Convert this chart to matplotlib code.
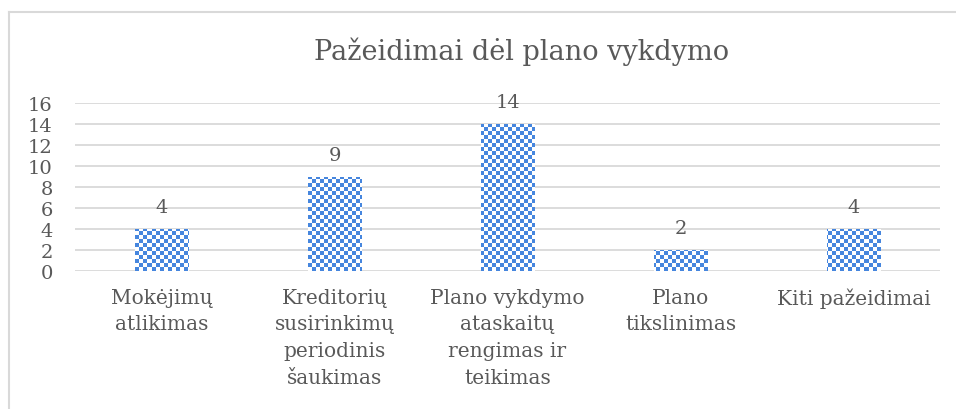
import matplotlib
matplotlib.use("Agg")
import matplotlib.pyplot as plt
import numpy as np
from matplotlib.lines import Line2D
from matplotlib.colors import ListedColormap

categories = ["Mokėjimų\natlikimas",
              "Kreditorių\nsusirinkimų\nperiodinis\nšaukimas",
              "Plano vykdymo\nataskaitų\nrengimas ir\nteikimas",
              "Plano\ntikslinimas",
              "Kiti pažeidimai"]
values = [4, 9, 14, 2, 4]
yticks = [0, 2, 4, 6, 8, 10, 12, 14, 16]
title = "Pažeidimai dėl plano vykdymo"

W, H = 956, 410
fig = plt.figure(figsize=(W/100, H/100), dpi=100)
FONT = "DejaVu Serif"
TXT = "#595959"
GRID = "#d9d9d9"
BLUE = "#4686de"

ax = fig.add_axes([75/W, 1-272/H, (940-75)/W, (272-104)/H])
x = np.arange(len(categories))
bars = ax.bar(x, values, width=0.31, color="none", edgecolor="none", zorder=3)
ax.set_xlim(-0.5, len(categories)-0.5)
ax.set_ylim(0, 16)
ax.set_yticks(yticks)
ax.set_yticklabels([str(t) for t in yticks], fontfamily=FONT, fontsize=14, color=TXT)
ax.set_xticks(x)
ax.set_xticklabels(categories, fontfamily=FONT, fontsize=14.5, color=TXT, linespacing=1.52)
ax.tick_params(axis="y", length=0, pad=16)
ax.tick_params(axis="x", length=0, pad=12)
for s in ax.spines.values():
    s.set_visible(False)
ax.yaxis.grid(True, color=GRID, linewidth=1.3, zorder=0)
ax.set_axisbelow(True)

# checkerboard pattern clipped to bars
px_w = (940-75)
px_h = (272-104)
cell = 4
nc = px_w // cell
nr = px_h // cell
cb = (np.indices((nr, nc)).sum(axis=0) % 2).astype(float)
cmap = ListedColormap(["#ffffff", BLUE])
for b in bars:
    im = ax.imshow(cb, cmap=cmap, extent=[-0.5, len(categories)-0.5, 0, 16],
                   origin="lower", interpolation="nearest", aspect="auto", zorder=3)
    im.set_clip_path(b)
ax.set_xlim(-0.5, len(categories)-0.5)
ax.set_ylim(0, 16)

for xi, v in zip(x, values):
    ax.annotate(str(v), (xi, v), xytext=(0, 9), textcoords="offset points",
                ha="center", va="bottom", fontfamily=FONT, fontsize=14, color=TXT)

fig.text(522/W, 1-60/H, title, ha="center", va="baseline",
         fontfamily=FONT, fontsize=19.5, color=TXT)

fig.add_artist(Line2D([8.5/W, 8.5/W], [0, 1-12.5/H], transform=fig.transFigure,
                      color=GRID, linewidth=1.5))
fig.add_artist(Line2D([8.5/W, 1], [1-12.5/H, 1-12.5/H], transform=fig.transFigure,
                      color=GRID, linewidth=1.5))

fig.savefig("out.png", dpi=100)
